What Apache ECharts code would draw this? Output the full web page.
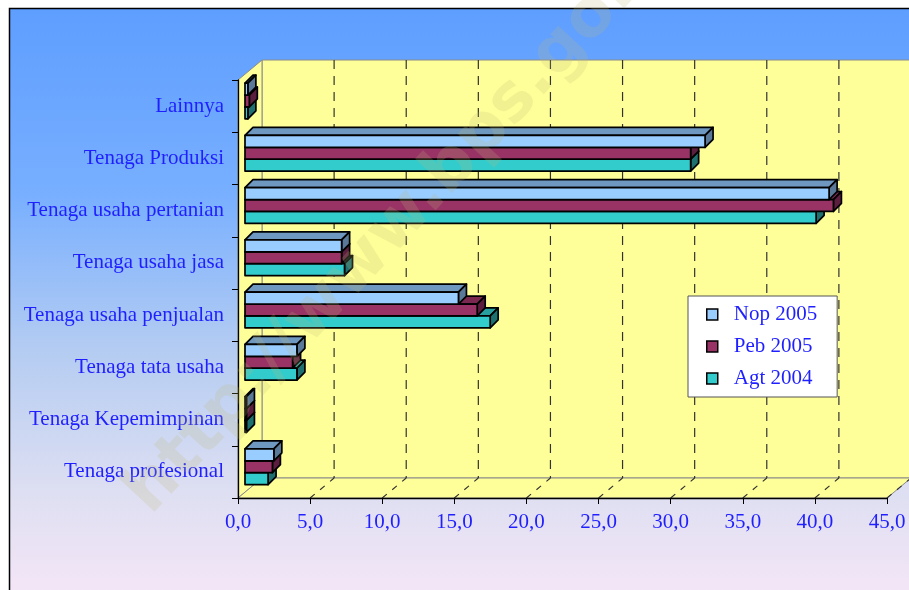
<!DOCTYPE html>
<html>
<head>
<meta charset="utf-8">
<script src="https://cdn.jsdelivr.net/npm/echarts@6/dist/echarts.min.js"></script>
<style>
    html, body { margin: 0; padding: 0; background: #fff; overflow: hidden; }
    #chart { width: 909px; height: 590px; }
</style>
</head>
<body>
<div id="chart"></div>
<script>
    // data, bottom category first
    var categories = ['Tenaga profesional', 'Tenaga Kepemimpinan', 'Tenaga tata usaha', 'Tenaga usaha penjualan',
        'Tenaga usaha jasa', 'Tenaga usaha pertanian', 'Tenaga Produksi', 'Lainnya'];
    var seriesNames = ['Nop 2005', 'Peb 2005', 'Agt 2004'];
    var nop2005 = [2.0, 0.1, 3.6, 14.8, 6.7, 40.5, 31.9, 0.2];
    var peb2005 = [1.9, 0.1, 3.3, 16.1, 6.7, 40.8, 30.9, 0.3];
    var agt2004 = [1.6, 0.1, 3.6, 17.0, 6.9, 39.6, 30.9, 0.2];
    var xTicks = [0, 5, 10, 15, 20, 25, 30, 35, 40, 45];

    // front / top / side colours of the 3d boxes
    var faceColors = [
        ['#99CCFF', '#6F98C0', '#5A7898'],
        ['#993366', '#7A2850', '#5C1E3E'],
        ['#33CCCC', '#28A0A0', '#1E7070']
    ];
    var textBlue = '#1f1fff';
    var serif = '"Liberation Serif", "DejaVu Serif", serif';

    var mychart = echarts.init(document.getElementById('chart'));

    function pairs(arr) {
        var out = [];
        for (var i = 0; i < arr.length; i++) {
            out.push([arr[i], i]);
        }
        return out;
    }

    // walls + floor of the 3d box, built from the grid rect
    function renderWalls(params, api) {
        var cs = params.coordSys;
        var dx = 24, dy = -20;
        var L = cs.x, R = cs.x + cs.width, T = cs.y, B = cs.y + cs.height;
        var wall = { fill: '#FFFF99', stroke: '#8a8a8a', lineWidth: 1 };
        var kids = [
            { type: 'polygon', shape: { points: [[L + dx, T + dy], [R + dx + 40, T + dy], [R + dx + 40, B + dy], [L + dx, B + dy]] }, style: wall },
            { type: 'polygon', shape: { points: [[L, B], [L, T], [L + dx, T + dy], [L + dx, B + dy]] }, style: wall },
            { type: 'polygon', shape: { points: [[L, B], [R, B], [R + dx, B + dy], [L + dx, B + dy]] }, style: wall }
        ];
        for (var i = 1; i < xTicks.length; i++) {
            var x = api.coord([xTicks[i], 0])[0];
            kids.push({ type: 'line', shape: { x1: x + dx, y1: T + dy, x2: x + dx, y2: B + dy },
                style: { stroke: '#333', lineWidth: 1.2, lineDash: [9, 7] } });
            kids.push({ type: 'line', shape: { x1: x, y1: B, x2: x + dx, y2: B + dy },
                style: { stroke: '#333', lineWidth: 1.2, lineDash: [6, 7] } });
        }
        return { type: 'group', children: kids };
    }

    function barRenderer(k) {
        var c = faceColors[k];
        return function (params, api) {
            var val = api.value(0);
            var cat = api.value(1);
            var p0 = api.coord([0, cat]);
            var p1 = api.coord([val, cat]);
            var bh = 11.9, dx = 8, dy = -8;
            var x0 = p0[0] + 7, x1 = p1[0] + 7;
            var y0 = p0[1] - 23 + k * bh, y1 = y0 + bh;
            function st(fill) {
                return { fill: fill, stroke: '#000', lineWidth: 1.7, lineJoin: 'round' };
            }
            return {
                type: 'group',
                children: [
                    { type: 'polygon', shape: { points: [[x0, y0], [x0 + dx, y0 + dy], [x1 + dx, y0 + dy], [x1, y0]] }, style: st(c[1]) },
                    { type: 'polygon', shape: { points: [[x1, y0], [x1 + dx, y0 + dy], [x1 + dx, y1 + dy], [x1, y1]] }, style: st(c[2]) },
                    { type: 'rect', shape: { x: x0, y: y0, width: x1 - x0, height: bh }, style: st(c[0]) }
                ]
            };
        };
    }

    var allValues = [nop2005, peb2005, agt2004];
    var series = [{
        type: 'custom',
        name: 'walls',
        renderItem: renderWalls,
        data: [[0, 0]],
        clip: false,
        silent: true,
        z: 1
    }];
    for (var s = 0; s < 3; s++) {
        series.push({
            type: 'custom',
            name: seriesNames[s],
            renderItem: barRenderer(s),
            data: pairs(allValues[s]),
            encode: { x: 0, y: 1 },
            clip: false,
            itemStyle: { color: faceColors[s][0], borderColor: '#000', borderWidth: 1 },
            z: 6 - s     // upper box of a group drawn last
        });
    }

    mychart.setOption({
        backgroundColor: '#fff',
        animation: false,
        grid: { left: 238, top: 80, width: 649, height: 418 },
        graphic: [
            {
                type: 'rect', z: -10,
                shape: { x: 9.5, y: 8.5, width: 940, height: 620 },
                style: {
                    stroke: '#000', lineWidth: 1.5,
                    fill: new echarts.graphic.LinearGradient(0, 0, 0, 1, [
                        { offset: 0, color: '#5e9eff' },
                        { offset: 0.3, color: '#78afff' },
                        { offset: 0.55, color: '#b4ccf2' },
                        { offset: 0.78, color: '#dedff2' },
                        { offset: 1, color: '#fbe8f8' }
                    ])
                }
            },
            {
                type: 'text', z: 100, x: 405, y: 218,
                rotation: Math.PI * 47 / 180,
                style: {
                    text: 'http://www.bps.go.id',
                    font: 'bold 66px "DejaVu Sans"',
                    fill: 'rgba(190,185,120,0.2)',
                    align: 'center', verticalAlign: 'middle'
                }
            }
        ],
        legend: {
            data: seriesNames,
            orient: 'vertical',
            left: 688, top: 296,
            icon: 'rect',
            itemWidth: 11, itemHeight: 11, itemGap: 11,
            backgroundColor: '#fff', borderColor: '#555', borderWidth: 1,
            padding: [8, 20, 8, 18],
            itemStyle: { borderColor: '#000', borderWidth: 1.5 },
            textStyle: { color: textBlue, fontFamily: serif, fontSize: 21, padding: [0, 0, 0, 11] }
        },
        xAxis: {
            type: 'value', min: 0, max: 45, interval: 5, z: 10,
            axisLine: { show: true, lineStyle: { color: '#000', width: 1.3 } },
            axisTick: { show: true, length: 6, lineStyle: { color: '#000' } },
            splitLine: { show: false },
            axisLabel: {
                color: textBlue, fontFamily: serif, fontSize: 21, margin: 14,
                formatter: function (v) { return v.toFixed(1).replace('.', ','); }
            }
        },
        yAxis: {
            type: 'category', data: categories, z: 10,
            axisLine: { show: true, lineStyle: { color: '#000', width: 1.3 } },
            axisTick: { show: true, length: 6, lineStyle: { color: '#000' } },
            axisLabel: { color: textBlue, fontFamily: serif, fontSize: 21, margin: 14, padding: [4, 0, 0, 0] }
        },
        series: series
    });
</script>
</body>
</html>
